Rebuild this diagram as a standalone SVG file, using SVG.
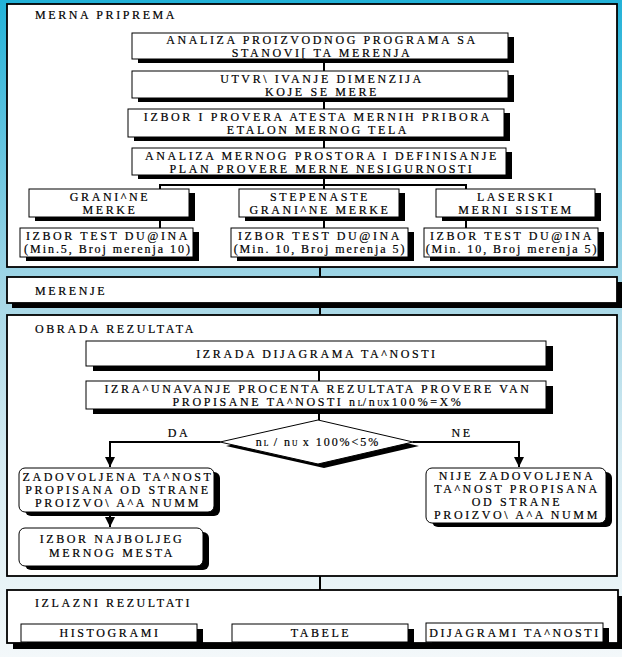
<svg xmlns="http://www.w3.org/2000/svg" width="622" height="657" viewBox="0 0 622 657">
  <defs>
    <linearGradient id="bg" x1="0" y1="0" x2="0" y2="1">
      <stop offset="0" stop-color="#22b2d8"/>
      <stop offset="0.25" stop-color="#6cc6e0"/>
      <stop offset="0.45" stop-color="#a6d7e6"/>
      <stop offset="0.7" stop-color="#d6ebf2"/>
      <stop offset="1" stop-color="#f3f8fa"/>
    </linearGradient>
    <marker id="arrow" viewBox="0 0 10 10" refX="10" refY="5" markerWidth="5" markerHeight="5" orient="auto" markerUnits="strokeWidth">
      <path d="M0,0 L10,5 L0,10 Z" fill="#000"/>
    </marker>
  </defs>
  <style>
    .sec { fill: #fff; stroke: #000; stroke-width: 1.8; }
    .box { fill: #fff; stroke: #000; stroke-width: 1; }
    .shd { fill: #000; }
    .ln { fill: none; stroke: #000; stroke-width: 2; }
    text { font-family: "Liberation Serif", "Times New Roman", serif; font-size: 12px; letter-spacing: 2.6px; fill: #000; stroke: #000; stroke-width: 0.2px; }
    .c { text-anchor: middle; }
    .lc { letter-spacing: 1.95px; }
    .sub { font-size: 7.5px; letter-spacing: 0.5px; }
  </style>

  <rect x="0" y="0" width="622" height="657" fill="url(#bg)"/>

  <!-- section panels -->
  <g id="sec-priprema">
    <rect class="sec" x="7" y="4" width="610" height="263"/>
    <text x="35" y="19">MERNA PRIPREMA</text>
  </g>
  <g id="sec-merenje">
    <rect class="shd" x="12" y="282" width="610" height="26"/>
    <rect class="sec" x="7" y="277" width="610" height="26"/>
    <text x="35" y="295">MERENJE</text>
  </g>
  <g id="sec-obrada">
    <rect class="sec" x="7" y="315" width="610" height="261"/>
    <text x="35" y="333">OBRADA REZULTATA</text>
  </g>
  <g id="sec-izlazni">
    <rect class="shd" x="13" y="596" width="610" height="53"/>
    <rect class="sec" x="7" y="590" width="611" height="53"/>
    <text x="35" y="607">IZLAZNI REZULTATI</text>
  </g>

  <!-- connectors -->
  <g id="connectors">
    <path class="ln" d="M324,59 V71 M324,98 V109 M324,137 V148 M324,175 V185"/>
    <path class="ln" d="M159,185 H467 M160,185 V189 M324,185 V189 M466,185 V189"/>
    <path class="ln" d="M160,217 V228 M324,217 V228 M466,217 V228"/>
    <path class="ln" d="M320,267 V277 M320,303 V315 M320,576 V590"/>
    <path class="ln" d="M319,366 V381 M319,409 V420"/>
    <path class="ln" d="M220,442 H110 V467" marker-end="url(#arrow)"/>
    <path class="ln" d="M413,442 H519 V467" marker-end="url(#arrow)"/>
    <path class="ln" d="M110,512 V527" marker-end="url(#arrow)"/>
    <text class="c" x="179" y="437">DA</text>
    <text class="c" x="462" y="437">NE</text>
  </g>

  <!-- preparation steps -->
  <g id="n-analiza-programa">
    <rect class="shd" x="138" y="37" width="376" height="26"/>
    <rect class="box" x="132" y="33" width="376" height="26"/>
    <text class="c" x="322" y="44">ANALIZA PROIZVODNOG PROGRAMA SA</text>
    <text class="c" x="322" y="57">STANOVI[ TA MERENJA</text>
  </g>
  <g id="n-dimenzije">
    <rect class="shd" x="138" y="75" width="376" height="27"/>
    <rect class="box" x="132" y="71" width="376" height="27"/>
    <text class="c" x="322" y="83">UTVR\ IVANJE DIMENZIJA</text>
    <text class="c" x="322" y="96">KOJE SE MERE</text>
  </g>
  <g id="n-atesti">
    <rect class="shd" x="134" y="113" width="376" height="28"/>
    <rect class="box" x="128" y="109" width="376" height="28"/>
    <text class="c" x="318" y="121">IZBOR I PROVERA ATESTA MERNIH PRIBORA</text>
    <text class="c" x="318" y="134">ETALON MERNOG TELA</text>
  </g>
  <g id="n-prostor">
    <rect class="shd" x="138" y="152" width="374" height="27"/>
    <rect class="box" x="132" y="148" width="374" height="27"/>
    <text class="c" x="322" y="160">ANALIZA MERNOG PROSTORA I DEFINISANJE</text>
    <text class="c" x="322" y="173">PLAN PROVERE MERNE NESIGURNOSTI</text>
  </g>

  <g id="n-granicne">
    <rect class="shd" x="35" y="193" width="160" height="28"/>
    <rect class="box" x="29" y="189" width="160" height="28"/>
    <text class="c" x="110" y="201">GRANI^NE</text>
    <text class="c" x="110" y="214">MERKE</text>
  </g>
  <g id="n-stepenaste">
    <rect class="shd" x="245" y="193" width="160" height="28"/>
    <rect class="box" x="239" y="189" width="160" height="28"/>
    <text class="c" x="320" y="201">STEPENASTE</text>
    <text class="c" x="320" y="214">GRANI^NE MERKE</text>
  </g>
  <g id="n-laserski">
    <rect class="shd" x="442" y="193" width="159" height="28"/>
    <rect class="box" x="436" y="189" width="159" height="28"/>
    <text class="c" x="516" y="201">LASERSKI</text>
    <text class="c" x="516" y="214">MERNI SISTEM</text>
  </g>

  <g id="n-test1">
    <rect class="shd" x="26" y="232" width="173" height="29"/>
    <rect class="box" x="20" y="228" width="173" height="29"/>
    <text class="c" x="108" y="240">IZBOR TEST DU@INA</text>
    <text class="c lc" x="108" y="253">(Min.5, Broj merenja 10)</text>
  </g>
  <g id="n-test2">
    <rect class="shd" x="237" y="232" width="177" height="29"/>
    <rect class="box" x="231" y="228" width="177" height="29"/>
    <text class="c" x="320" y="240">IZBOR TEST DU@INA</text>
    <text class="c lc" x="320" y="253">(Min. 10, Broj merenja 5)</text>
  </g>
  <g id="n-test3">
    <rect class="shd" x="430" y="232" width="174" height="29"/>
    <rect class="box" x="424" y="228" width="174" height="29"/>
    <text class="c" x="512" y="240">IZBOR TEST DU@INA</text>
    <text class="c lc" x="512" y="253">(Min. 10, Broj merenja 5)</text>
  </g>

  <!-- result processing -->
  <g id="n-dijagram">
    <rect class="shd" x="93" y="346" width="460" height="25"/>
    <rect class="box" x="86" y="341" width="460" height="25"/>
    <text class="c" x="317" y="358">IZRADA DIJAGRAMA TA^NOSTI</text>
  </g>
  <g id="n-procenat">
    <rect class="shd" x="93" y="386" width="460" height="28"/>
    <rect class="box" x="86" y="381" width="460" height="28"/>
    <text class="c" x="318" y="393">IZRA^UNAVANJE PROCENTA REZULTATA PROVERE VAN</text>
    <text class="c" x="318" y="406">PROPISANE TA^NOSTI n<tspan class="sub">L</tspan>/n<tspan class="sub">U</tspan>x100%=X%</text>
  </g>
  <g id="n-uslov">
    <polygon class="shd" points="226,446 324,424 419,446 324,468"/>
    <polygon class="box" points="220,442 318,420 413,442 318,464"/>
    <text class="c lc" x="318" y="446">n<tspan class="sub">L</tspan> / n<tspan class="sub">U</tspan> x 100%&lt;5%</text>
  </g>
  <g id="n-zadovoljena">
    <rect class="shd" x="25" y="472" width="195" height="44" rx="6"/>
    <rect class="box" x="19" y="468" width="195" height="44" rx="6"/>
    <text class="c" x="118" y="481">ZADOVOLJENA TA^NOST</text>
    <text class="c" x="118" y="494">PROPISANA OD STRANE</text>
    <text class="c" x="118" y="507">PROIZVO\ A^A NUMM</text>
  </g>
  <g id="n-najbolje">
    <rect class="shd" x="25" y="532" width="184" height="38" rx="6"/>
    <rect class="box" x="19" y="528" width="184" height="38" rx="6"/>
    <text class="c" x="112" y="543">IZBOR NAJBOLJEG</text>
    <text class="c" x="112" y="557">MERNOG MESTA</text>
  </g>
  <g id="n-nije">
    <rect class="shd" x="432" y="472" width="180" height="55" rx="6"/>
    <rect class="box" x="426" y="468" width="180" height="55" rx="6"/>
    <text class="c" x="517" y="480">NIJE ZADOVOLJENA</text>
    <text class="c" x="517" y="493">TA^NOST PROPISANA</text>
    <text class="c" x="517" y="506">OD STRANE</text>
    <text class="c" x="517" y="519">PROIZVO\ A^A NUMM</text>
  </g>

  <!-- outputs -->
  <g id="n-histogrami">
    <rect class="shd" x="27" y="629" width="176" height="18"/>
    <rect class="box" x="21" y="624" width="176" height="18"/>
    <text class="c" x="110" y="637">HISTOGRAMI</text>
  </g>
  <g id="n-tabele">
    <rect class="shd" x="238" y="629" width="176" height="18"/>
    <rect class="box" x="232" y="624" width="176" height="18"/>
    <text class="c" x="321" y="637">TABELE</text>
  </g>
  <g id="n-dijagrami">
    <rect class="shd" x="432" y="628" width="177" height="19"/>
    <rect class="box" x="426" y="623" width="177" height="19"/>
    <text class="c" x="515" y="637">DIJAGRAMI TA^NOSTI</text>
  </g>
</svg>
